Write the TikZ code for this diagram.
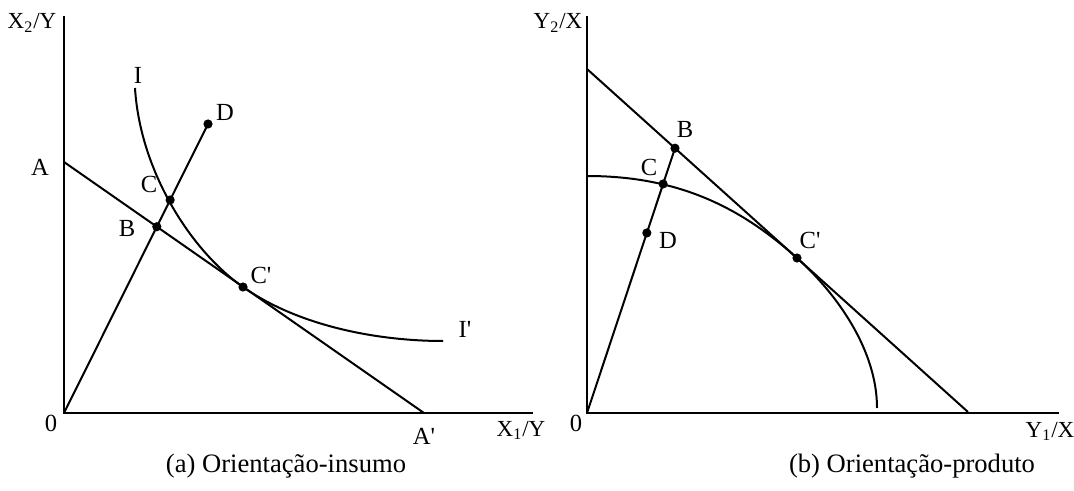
\documentclass[tikz,border=0pt]{standalone}
\usepackage{fontspec}
\setmainfont{Liberation Serif}
\usetikzlibrary{calc}
\newcommand{\pr}{\textquotesingle}
\tikzset{
  lbl/.style={inner sep=0pt, font=\fontsize{12.3}{14}\selectfont},
  axlbl/.style={inner sep=0pt, anchor=base, font=\fontsize{11.5}{13}\selectfont},
  capt/.style={inner sep=0pt, anchor=base, font=\fontsize{13.3}{15}\selectfont},
}
\begin{document}
\begin{tikzpicture}[x=0.5pt,y=-0.5pt,line width=1pt]
  \useasboundingbox (0,0) rectangle (1074,491);
  % (a) input orientation
  \coordinate (Oa) at (64,413);
  \coordinate (Ya) at (64,16);
  \coordinate (Xa) at (533,413);
  \coordinate (Aa) at (64,162);
  \coordinate (A1a) at (424,413);
  \coordinate (Da) at (208,124);
  \coordinate (Ba) at ($(Oa)!0.6446!(Da)$);
  \coordinate (Ca) at ($(Oa)!0.737!(Da)$);
  \coordinate (C1a) at (243,287);
  \draw[line width=1.2pt] (Ya) -- (Oa) -- (Xa);
  \draw (Aa) -- (A1a);
  \draw (Oa) -- (Da);
  \draw (135,88) .. controls (140,170) and (190,250) .. (C1a)
    .. controls (300,327) and (380,341) .. (443,341);
  \foreach \p in {Ba,Ca,C1a,Da} \fill (\p) circle (2.3pt);
  \node[axlbl] (ylab-a) at (32,29) {X\textsubscript{2}/Y};
  \node[axlbl] (xlab-a) at (521,436) {X\textsubscript{1}/Y};
  \node[lbl] (zero-a) at (51,423) {0};
  \node[lbl] (lab-A) at (40,167) {A};
  \node[lbl] (lab-A1) at (424,436) {A\pr};
  \node[lbl] (lab-I) at (138,75) {I};
  \node[lbl] (lab-I1) at (465,329) {I\pr};
  \node[lbl] (lab-Ba) at (127,228) {B};
  \node[lbl] (lab-Ca) at (149,184) {C};
  \node[lbl] (lab-C1a) at (261,275) {C\pr};
  \node[lbl] (lab-Da) at (225,112) {D};
  \node[capt] (capt-a) at (286,472) {(a) Orientação-insumo};
  % (b) output orientation
  \coordinate (Ob) at (587,413);
  \coordinate (Yb) at (587,16);
  \coordinate (Xb) at (1059,413);
  \coordinate (Tb) at (587,69);
  \coordinate (T1b) at (968,412);
  \coordinate (Bb) at (675,148.2);
  \coordinate (Cb) at ($(Ob)!0.865!(Bb)$);
  \coordinate (Db) at ($(Ob)!0.68!(Bb)$);
  \coordinate (C1b) at (797,258);
  \draw[line width=1.2pt] (Yb) -- (Ob) -- (Xb);
  \draw (Tb) -- (T1b);
  \draw (Ob) -- (Bb);
  \draw (587,176) .. controls (680,176) and (742,208.5) .. (C1b)
    .. controls (837,294) and (877,350) .. (877,408);
  \foreach \p in {Bb,Cb,C1b,Db} \fill (\p) circle (2.3pt);
  \node[axlbl] (ylab-b) at (558,29) {Y\textsubscript{2}/X};
  \node[axlbl] (xlab-b) at (1050,437) {Y\textsubscript{1}/X};
  \node[lbl] (zero-b) at (576,423) {0};
  \node[lbl] (lab-Bb) at (685,129) {B};
  \node[lbl] (lab-Cb) at (649,167) {C};
  \node[lbl] (lab-C1b) at (810,240) {C\pr};
  \node[lbl] (lab-Db) at (668,240) {D};
  \node[capt] (capt-b) at (912,472) {(b) Orientação-produto};
\end{tikzpicture}
\end{document}
